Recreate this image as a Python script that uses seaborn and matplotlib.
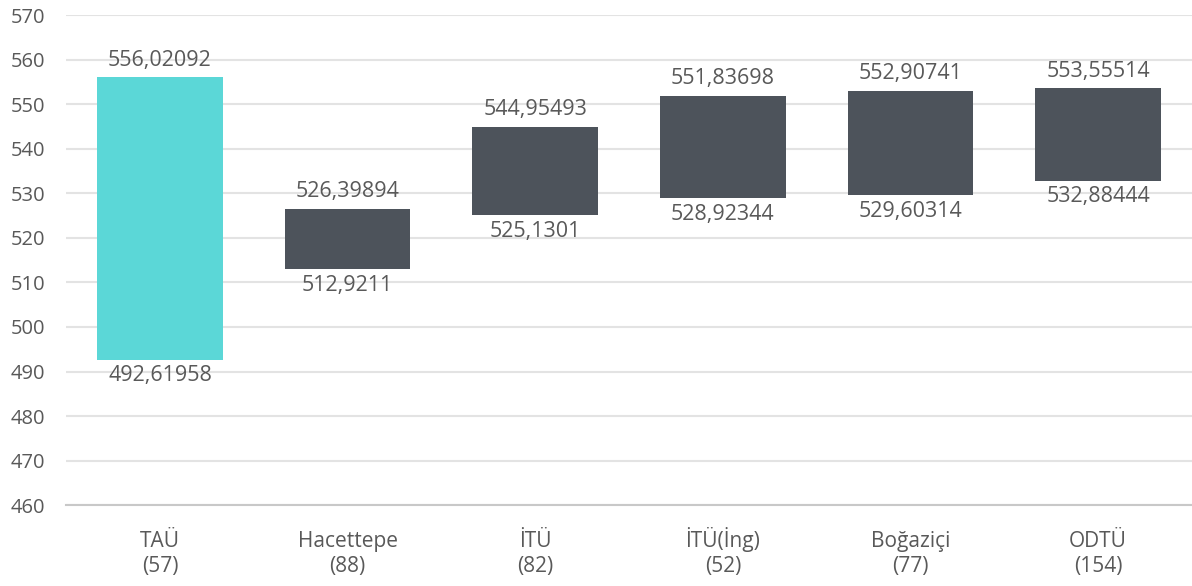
import matplotlib
matplotlib.use("Agg")
import matplotlib.pyplot as plt
import seaborn as sns
import pandas as pd

universities = ["TAÜ", "Hacettepe", "İTÜ", "İTÜ(İng)", "Boğaziçi", "ODTÜ"]
counts = ["(57)", "(88)", "(82)", "(52)", "(77)", "(154)"]
low_values = [492.61958, 512.9211, 525.1301, 528.92344, 529.60314, 532.88444]
high_values = [556.02092, 526.39894, 544.95493, 551.83698, 552.90741, 553.55514]
low_labels = ["492,61958", "512,9211", "525,1301", "528,92344", "529,60314", "532,88444"]
high_labels = ["556,02092", "526,39894", "544,95493", "551,83698", "552,90741", "553,55514"]
bar_colors = ["#5BD7D7", "#4D535B", "#4D535B", "#4D535B", "#4D535B", "#4D535B"]

sns.set_theme(style="white")
plt.rcParams['font.family'] = ['Open Sans', 'DejaVu Sans']

df = pd.DataFrame({
    "uni": universities,
    "low": low_values,
    "high": high_values,
})
df["span"] = df["high"] - df["low"]

fig = plt.figure(figsize=(11.92, 5.86), dpi=100)
ax = fig.add_axes([0.0555, 0.138, 0.9445, 0.836])

sns.barplot(data=df, x="uni", y="span", order=universities, color=bar_colors[1],
            bottom=df["low"].values, width=0.67, ax=ax, saturation=1, linewidth=0)
for patch, c in zip(ax.patches, bar_colors):
    patch.set_facecolor(c)

txt = "#595959"
for i, (lo, hi) in enumerate(zip(low_values, high_values)):
    ax.annotate(high_labels[i], (i, hi), xytext=(0, 5), textcoords="offset points",
                ha="center", va="bottom", fontsize=15.5, color=txt)
    ax.annotate(low_labels[i], (i, lo), xytext=(0, -4), textcoords="offset points",
                ha="center", va="top", fontsize=15.5, color=txt)

ax.set_ylim(460, 570)
ax.set_xlim(-0.5, 5.5)
ax.set_yticks(range(460, 571, 10))
ax.yaxis.grid(True, color="#E3E3E3", linewidth=1.5)
ax.set_axisbelow(True)
for s in ["top", "right", "left"]:
    ax.spines[s].set_visible(False)
ax.spines["bottom"].set_color("#C8C8C8")
ax.spines["bottom"].set_linewidth(1.5)
ax.set_xlabel("")
ax.set_ylabel("")
ax.tick_params(axis="y", length=0, labelsize=14.5, labelcolor=txt, pad=15)
ax.tick_params(axis="x", length=0)
ax.set_xticks(range(len(universities)))
ax.set_xticklabels([])

xform = ax.get_xaxis_transform()
for i, (name, cnt) in enumerate(zip(universities, counts)):
    ax.annotate(name, (i, 0), xycoords=xform, xytext=(0, -30), textcoords="offset points",
                ha="center", va="baseline", fontsize=15, color=txt)
    ax.annotate(cnt, (i, 0), xycoords=xform, xytext=(0, -48.5), textcoords="offset points",
                ha="center", va="baseline", fontsize=15, color=txt)

fig.savefig("out.png", dpi=100)
